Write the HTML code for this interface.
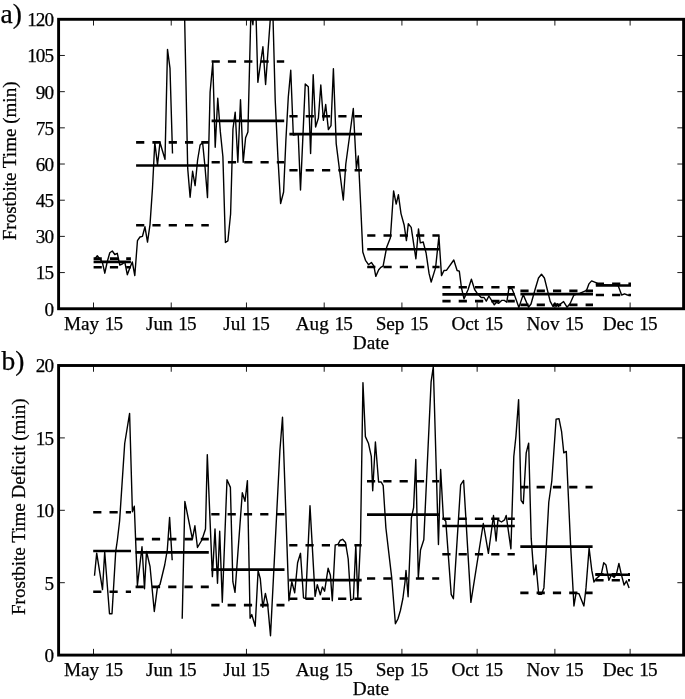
<!DOCTYPE html>
<html lang="en"><head><meta charset="utf-8"><title>Frostbite Time</title>
<style>
html,body{margin:0;padding:0;background:#fff;}
body{width:685px;height:699px;overflow:hidden;}
svg{display:block;}
text{font-family:"Liberation Serif","Times New Roman",serif;fill:#000;stroke:#000;stroke-width:0.25px;}
.t{font-size:19.2px;letter-spacing:-1px;}
.x{font-size:19.2px;word-spacing:0.8px;}
.y{font-size:19px;}
.p{font-size:27.5px;}
.d{fill:none;stroke:#000;stroke-width:1.4;stroke-linejoin:round;}
.s{stroke:#000;stroke-width:2.6;fill:none;}
.h{stroke:#000;stroke-width:2.6;fill:none;stroke-dasharray:8.2 8.1;}
.k{stroke:#000;stroke-width:0.9;fill:none;}
.f{stroke:#000;stroke-width:2.9;fill:none;}
</style></head><body>
<svg width="685" height="699" viewBox="0 0 685 699">
<rect x="0" y="0" width="685" height="699" fill="#fff"/>
<defs>
<clipPath id="ca"><rect x="58.60" y="19.30" width="625.00" height="289.45"/></clipPath>
<clipPath id="cb"><rect x="58.60" y="365.50" width="625.00" height="289.60"/></clipPath>
</defs>
<g clip-path="url(#ca)">
<polyline class="d" points="94.85,258.90 97.30,255.80 99.80,258.90 102.30,262.00 104.80,273.20 107.30,261.50 109.80,252.80 112.30,251.00 114.80,254.50 117.30,253.30 119.80,265.00 122.30,264.00 124.80,262.00 127.30,274.70 129.80,268.10 132.30,262.00 134.80,275.50 137.45,240.70 139.96,237.00 142.46,236.30 144.97,226.80 147.50,242.10 150.00,224.60 152.50,188.00 154.80,142.40 157.50,164.70 160.00,142.40 162.50,151.00 165.00,159.30 167.50,49.40 170.00,68.40 172.50,153.50"/>
<polyline class="d" points="182.10,-107.00 187.70,168.40 190.10,197.30 192.60,171.30 195.10,185.60 197.60,160.00 200.10,145.00 202.60,142.40 205.10,168.00 207.50,197.60 210.10,92.00 212.80,62.60 215.20,147.20 217.75,98.30 220.35,131.90 222.90,156.70 225.40,242.50 227.90,240.80 230.60,214.00 232.95,129.00 235.20,112.20 237.85,162.30 240.50,99.80 243.20,162.30 245.60,137.70 247.90,132.00 250.90,12.00 252.90,24.70 255.30,-12.00 257.85,82.30 260.30,65.00 262.90,46.80 265.60,84.50 272.30,-9.00 275.20,100.00 277.90,157.00 280.60,203.50 283.60,192.00 285.90,140.00 288.30,97.00 290.75,70.20 293.30,135.00 295.80,134.50 298.20,134.00 300.50,190.00 305.25,84.00 308.30,86.80 310.60,153.50 313.20,74.80 315.60,127.00 318.40,118.00 320.80,85.00 323.40,120.30 325.70,104.50 328.40,129.60 331.00,125.60 333.40,68.70 336.20,143.60 343.30,200.00 345.80,164.00 353.30,108.50 356.40,168.40 358.30,156.00 360.80,208.00 362.80,252.00 365.50,260.30 368.50,264.70 371.40,262.50 373.90,266.10 375.80,276.40 378.70,269.80 380.80,267.40 383.10,266.10 386.70,247.20 390.40,237.70 393.60,191.00 396.20,204.10 398.40,194.60 401.00,213.60 404.20,225.30 406.40,240.60 408.30,223.80 411.20,227.40 413.70,244.20 415.90,258.80 418.50,228.90 420.30,242.80 423.20,242.00 426.10,253.00 429.05,273.40 431.20,282.00 435.60,267.60 438.90,236.20 441.50,275.60 444.00,270.50 446.60,270.20 453.80,260.00 457.10,270.50 459.30,271.20 461.50,288.00 464.00,298.90 468.10,289.50 471.40,279.20 474.60,289.50 477.55,293.80 481.20,297.50 484.10,297.50 486.30,301.10 488.90,296.00 494.30,304.80 496.50,302.30 498.70,303.30 501.60,300.40 504.30,300.40 506.80,302.20 508.90,288.30 512.10,288.90 514.30,294.50 518.90,307.40 523.20,294.60 528.60,307.20 531.00,304.00 535.00,289.70 538.50,278.00 541.50,274.30 544.40,278.00 547.30,289.70 550.20,301.40 553.10,306.60 554.90,303.10 556.10,306.60 557.20,303.70 558.40,306.60 560.70,303.70 563.60,301.60 567.00,307.20 570.00,303.70 573.90,295.00 580.20,293.20 586.60,290.30 588.90,283.90 591.60,280.90 595.90,282.70 600.00,284.80 612.00,285.00 618.10,285.60 621.60,295.00 624.60,293.80 627.50,295.00 630.40,295.50"/>
</g>
<path class="h" d="M93.60 258.60H130.90M93.60 267.30H130.90"/>
<path class="s" d="M93.60 261.90H130.90"/>
<path class="h" d="M136.10 142.40H208.80M136.10 225.30H208.80"/>
<path class="s" d="M136.10 165.50H208.80"/>
<path class="h" d="M211.60 61.50H284.20M211.60 162.30H284.20"/>
<path class="s" d="M211.60 120.90H284.20"/>
<path class="h" d="M289.40 116.30H362.00M289.40 170.30H362.00"/>
<path class="s" d="M289.40 134.10H362.00"/>
<path class="h" d="M367.20 235.50H439.60M367.20 267.00H439.60"/>
<path class="s" d="M367.20 249.30H439.60"/>
<path class="h" d="M442.40 287.30H514.80M442.40 301.10H514.80"/>
<path class="s" d="M442.40 294.40H514.80"/>
<path class="h" d="M520.40 290.90H593.00M520.40 304.90H593.00"/>
<path class="s" d="M520.40 294.10H593.00"/>
<path class="h" d="M595.80 283.80H631.00M595.80 295.00H631.00"/>
<path class="s" d="M595.80 285.50H631.00"/>
<path class="k" d="M93.50 19.30v6.25M93.50 308.75v-6.25M171.23 19.30v6.25M171.23 308.75v-6.25M246.46 19.30v6.25M246.46 308.75v-6.25M324.19 19.30v6.25M324.19 308.75v-6.25M401.92 19.30v6.25M401.92 308.75v-6.25M477.15 19.30v6.25M477.15 308.75v-6.25M554.88 19.30v6.25M554.88 308.75v-6.25M630.11 19.30v6.25M630.11 308.75v-6.25M58.60 308.75h6.25M683.60 308.75h-6.25M58.60 272.57h6.25M683.60 272.57h-6.25M58.60 236.39h6.25M683.60 236.39h-6.25M58.60 200.21h6.25M683.60 200.21h-6.25M58.60 164.03h6.25M683.60 164.03h-6.25M58.60 127.84h6.25M683.60 127.84h-6.25M58.60 91.66h6.25M683.60 91.66h-6.25M58.60 55.48h6.25M683.60 55.48h-6.25M58.60 19.30h6.25M683.60 19.30h-6.25"/>
<rect class="f" x="58.60" y="19.30" width="625.00" height="289.45"/>
<text class="t" x="53.0" y="315.65" text-anchor="end">0</text>
<text class="t" x="53.0" y="279.47" text-anchor="end">15</text>
<text class="t" x="53.0" y="243.29" text-anchor="end">30</text>
<text class="t" x="53.0" y="207.11" text-anchor="end">45</text>
<text class="t" x="53.0" y="170.93" text-anchor="end">60</text>
<text class="t" x="53.0" y="134.74" text-anchor="end">75</text>
<text class="t" x="53.0" y="98.56" text-anchor="end">90</text>
<text class="t" x="53.0" y="62.38" text-anchor="end">105</text>
<text class="t" x="53.0" y="26.20" text-anchor="end">120</text>
<text class="x" x="93.20" y="330.05" text-anchor="middle">May <tspan style="letter-spacing:-0.8px">15</tspan></text>
<text class="x" x="170.93" y="330.05" text-anchor="middle">Jun <tspan style="letter-spacing:-0.8px">15</tspan></text>
<text class="x" x="246.16" y="330.05" text-anchor="middle">Jul <tspan style="letter-spacing:-0.8px">15</tspan></text>
<text class="x" x="323.89" y="330.05" text-anchor="middle">Aug <tspan style="letter-spacing:-0.8px">15</tspan></text>
<text class="x" x="401.62" y="330.05" text-anchor="middle">Sep <tspan style="letter-spacing:-0.8px">15</tspan></text>
<text class="x" x="476.85" y="330.05" text-anchor="middle">Oct <tspan style="letter-spacing:-0.8px">15</tspan></text>
<text class="x" x="554.58" y="330.05" text-anchor="middle">Nov <tspan style="letter-spacing:-0.8px">15</tspan></text>
<text class="x" x="629.81" y="330.05" text-anchor="middle">Dec <tspan style="letter-spacing:-0.8px">15</tspan></text>
<text class="x" x="370.9" y="348.70" text-anchor="middle">Date</text>
<text class="y" transform="translate(15.80 160.90) rotate(-90)" text-anchor="middle" textLength="158.8" lengthAdjust="spacingAndGlyphs">Frostbite Time (min)</text>
<text class="p" x="0.60" y="23.30">a)</text>
<g clip-path="url(#cb)">
<polyline class="d" points="94.50,575.80 96.70,553.10 102.50,589.60 104.70,552.00 109.50,613.70 112.00,613.70 115.70,551.70 117.40,540.00 119.60,521.00 124.70,443.50 129.60,413.40 132.40,511.80 134.30,506.20 137.40,585.40 142.00,546.80 144.50,588.70 146.50,551.50 150.00,566.30 154.30,611.50 157.40,587.30 160.00,584.50 164.70,565.00 167.30,550.00 169.60,517.40 172.20,560.30"/>
<polyline class="d" points="182.20,618.70 184.85,501.40 192.40,539.00 194.90,525.80 197.45,547.50 201.90,540.00 205.50,529.00 207.30,454.60 212.40,576.60 215.00,529.00 217.50,583.20 219.70,531.20 222.30,602.20 227.00,479.70 230.40,487.40 232.85,581.70 235.00,592.40 242.30,492.80 245.00,501.30 247.40,480.60 250.10,618.20 251.80,614.60 255.20,626.20 258.10,570.80 260.30,578.80 262.80,607.30 265.40,593.40 267.60,603.60 270.50,635.70 279.90,450.50 282.50,417.20 288.90,600.70 291.80,581.80 294.70,592.70 297.60,562.80 300.50,553.30 303.50,597.80 305.70,598.50 310.00,505.80 315.10,596.40 317.30,584.70 320.30,594.90 322.40,586.90 324.60,591.20 328.10,568.30 330.40,575.30 332.30,600.70 335.20,545.00 338.00,544.40 340.10,540.50 342.60,539.30 345.50,542.50 348.20,559.00 350.80,600.40 353.40,599.00 355.80,545.30 357.80,598.00 360.50,540.00 362.95,382.60 365.40,436.60 368.40,443.20 371.30,456.40 372.70,490.80 375.40,442.00 378.60,482.00 381.20,482.00 383.20,485.70 385.90,528.00 391.70,577.70 395.40,623.70 397.90,619.00 400.40,610.50 402.90,598.50 405.00,582.00 406.00,570.40 408.10,596.70 411.40,517.80 413.60,507.60 415.80,459.40 418.30,577.70 420.50,550.00 423.80,539.70 431.10,381.90 433.30,366.60 438.45,544.50 440.65,469.50 443.40,518.60 445.80,521.30 451.20,594.40 453.40,598.80 460.65,484.80 463.60,480.40 470.90,602.40 483.30,523.50 488.40,553.40 493.50,515.50 496.10,541.00 497.90,519.90 501.50,522.00 504.50,519.90 506.20,515.50 510.90,548.80 513.80,456.50 515.95,436.10 518.60,399.60 521.10,500.30 523.30,503.60 526.20,452.90 528.65,443.10 531.20,538.40 533.90,574.70 536.00,564.90 538.70,594.30 541.60,594.30 543.90,587.90 546.40,545.00 548.80,502.00 551.80,481.00 556.10,419.30 559.00,418.60 561.60,431.70 563.80,452.90 566.30,451.40 570.60,545.00 573.95,606.00 576.05,593.10 579.00,593.70 583.90,606.00 586.00,587.90 589.10,548.20 591.80,570.40 594.00,582.00 595.70,579.30 601.35,573.90 603.70,562.80 606.00,565.10 608.90,580.30 611.30,575.00 614.20,577.40 616.50,573.90 618.90,563.40 621.20,573.90 624.10,585.00 626.50,580.90 629.10,587.90"/>
</g>
<path class="h" d="M93.20 512.30H131.00M93.20 591.80H131.00"/>
<path class="s" d="M93.20 551.00H131.00"/>
<path class="h" d="M135.60 539.10H208.80M135.60 586.90H208.80"/>
<path class="s" d="M135.60 552.40H208.80"/>
<path class="h" d="M211.30 514.30H284.50M211.30 605.10H284.50"/>
<path class="s" d="M211.30 569.60H284.50"/>
<path class="h" d="M289.20 545.20H361.70M289.20 598.70H361.70"/>
<path class="s" d="M289.20 580.10H361.70"/>
<path class="h" d="M367.00 481.30H439.20M367.00 578.50H439.20"/>
<path class="s" d="M367.00 514.60H439.20"/>
<path class="h" d="M442.30 518.80H514.80M442.30 554.20H514.80"/>
<path class="s" d="M442.30 526.00H514.80"/>
<path class="h" d="M520.30 487.10H592.60M520.30 592.90H592.60"/>
<path class="s" d="M520.30 546.60H592.60"/>
<path class="h" d="M595.40 574.30H630.00M595.40 580.30H630.00"/>
<path class="s" d="M595.40 574.70H630.00"/>
<path class="k" d="M93.50 365.50v6.25M93.50 655.10v-6.25M171.23 365.50v6.25M171.23 655.10v-6.25M246.46 365.50v6.25M246.46 655.10v-6.25M324.19 365.50v6.25M324.19 655.10v-6.25M401.92 365.50v6.25M401.92 655.10v-6.25M477.15 365.50v6.25M477.15 655.10v-6.25M554.88 365.50v6.25M554.88 655.10v-6.25M630.11 365.50v6.25M630.11 655.10v-6.25M58.60 655.10h6.25M683.60 655.10h-6.25M58.60 582.70h6.25M683.60 582.70h-6.25M58.60 510.30h6.25M683.60 510.30h-6.25M58.60 437.90h6.25M683.60 437.90h-6.25M58.60 365.50h6.25M683.60 365.50h-6.25"/>
<rect class="f" x="58.60" y="365.50" width="625.00" height="289.60"/>
<text class="t" x="53.0" y="662.00" text-anchor="end">0</text>
<text class="t" x="53.0" y="589.60" text-anchor="end">5</text>
<text class="t" x="53.0" y="517.20" text-anchor="end">10</text>
<text class="t" x="53.0" y="444.80" text-anchor="end">15</text>
<text class="t" x="53.0" y="372.40" text-anchor="end">20</text>
<text class="x" x="93.20" y="675.80" text-anchor="middle">May <tspan style="letter-spacing:-0.8px">15</tspan></text>
<text class="x" x="170.93" y="675.80" text-anchor="middle">Jun <tspan style="letter-spacing:-0.8px">15</tspan></text>
<text class="x" x="246.16" y="675.80" text-anchor="middle">Jul <tspan style="letter-spacing:-0.8px">15</tspan></text>
<text class="x" x="323.89" y="675.80" text-anchor="middle">Aug <tspan style="letter-spacing:-0.8px">15</tspan></text>
<text class="x" x="401.62" y="675.80" text-anchor="middle">Sep <tspan style="letter-spacing:-0.8px">15</tspan></text>
<text class="x" x="476.85" y="675.80" text-anchor="middle">Oct <tspan style="letter-spacing:-0.8px">15</tspan></text>
<text class="x" x="554.58" y="675.80" text-anchor="middle">Nov <tspan style="letter-spacing:-0.8px">15</tspan></text>
<text class="x" x="629.81" y="675.80" text-anchor="middle">Dec <tspan style="letter-spacing:-0.8px">15</tspan></text>
<text class="x" x="370.9" y="694.60" text-anchor="middle">Date</text>
<text class="y" transform="translate(25.10 506.70) rotate(-90)" text-anchor="middle" textLength="216.6" lengthAdjust="spacingAndGlyphs">Frostbite Time Deficit (min)</text>
<text class="p" x="1.60" y="369.90">b)</text>
</svg>
</body></html>
